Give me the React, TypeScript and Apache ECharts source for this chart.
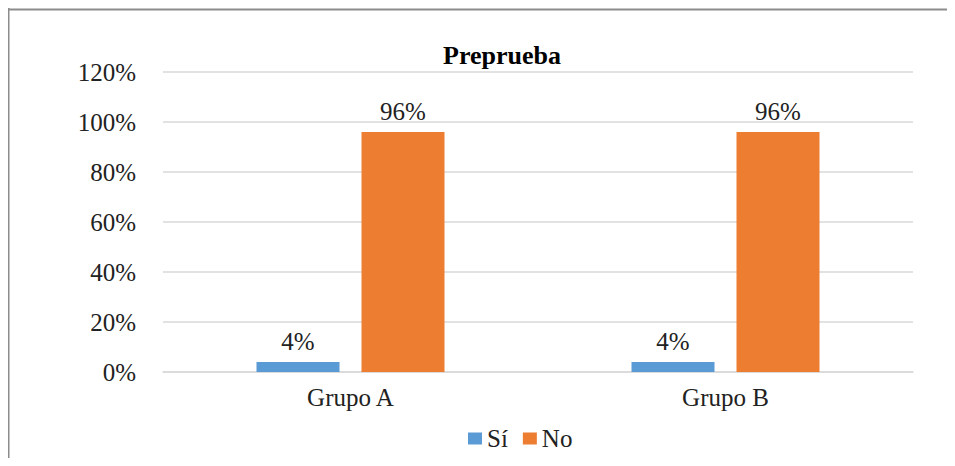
import React, { useEffect, useRef } from "react";
import * as echarts from "echarts";

const categories = ["Grupo A", "Grupo B"];
const siValues = [4, 4];
const noValues = [96, 96];
const seriesNames = ["Sí", "No"];
const seriesColors = ["#5B9BD5", "#ED7D31"];
const titleText = "Preprueba";

const FONT = "serif";

export default function App() {
  const ref = useRef<HTMLDivElement>(null);
  useEffect(() => {
    if (!ref.current) return;
    const chart = echarts.init(ref.current, undefined, { renderer: "svg" });
    const pct = (p: any) => p.value + "%";
    chart.setOption({
      animation: false,
      textStyle: { fontFamily: FONT },
      title: {
        text: titleText,
        left: 489,
        top: 29,
        textAlign: "center",
        textStyle: { fontFamily: FONT, fontWeight: "bold", fontSize: 26, color: "#000" },
      },
      legend: {
        data: seriesNames,
        left: 455,
        top: 413,
        itemWidth: 14,
        itemHeight: 12,
        itemGap: 15,
        icon: "rect",
        textStyle: { fontFamily: FONT, fontSize: 25, color: "#222" },
      },
      grid: { left: 155, top: 64, width: 750, height: 300 },
      xAxis: {
        type: "category",
        data: categories,
        axisLine: { lineStyle: { color: "#d9d9d9", width: 1.5 } },
        axisTick: { show: false },
        axisLabel: { fontFamily: FONT, fontSize: 25, color: "#222", margin: 13 },
      },
      yAxis: {
        type: "value",
        min: 0,
        max: 120,
        interval: 20,
        axisLine: { show: false },
        axisTick: { show: false },
        splitLine: { lineStyle: { color: "#d9d9d9", width: 1.5 } },
        axisLabel: {
          fontFamily: FONT,
          fontSize: 25,
          color: "#222",
          margin: 27,
          formatter: (v: number) => v + "%",
        },
      },
      series: [
        {
          name: seriesNames[0],
          type: "bar",
          data: siValues,
          barWidth: 83,
          barGap: "26.5%",
          itemStyle: { color: seriesColors[0] },
          label: {
            show: true,
            position: "top",
            distance: 8,
            fontFamily: FONT,
            fontSize: 25,
            color: "#222",
            formatter: pct,
          },
        },
        {
          name: seriesNames[1],
          type: "bar",
          data: noValues,
          barWidth: 83,
          barGap: "26.5%",
          itemStyle: { color: seriesColors[1] },
          label: {
            show: true,
            position: "top",
            distance: 8,
            fontFamily: FONT,
            fontSize: 25,
            color: "#222",
            formatter: pct,
          },
        },
      ],
      graphic: [
        { type: "line", shape: { x1: 0, y1: 1.5, x2: 939, y2: 1.5 }, style: { stroke: "#8c8c8c", lineWidth: 2 } },
        { type: "line", shape: { x1: 0.5, y1: 0, x2: 0.5, y2: 450 }, style: { stroke: "#8c8c8c", lineWidth: 2 } },
      ],
    });
    return () => chart.dispose();
  }, []);

  return <div ref={ref} style={{ width: 939, height: 450 }} />;
}
